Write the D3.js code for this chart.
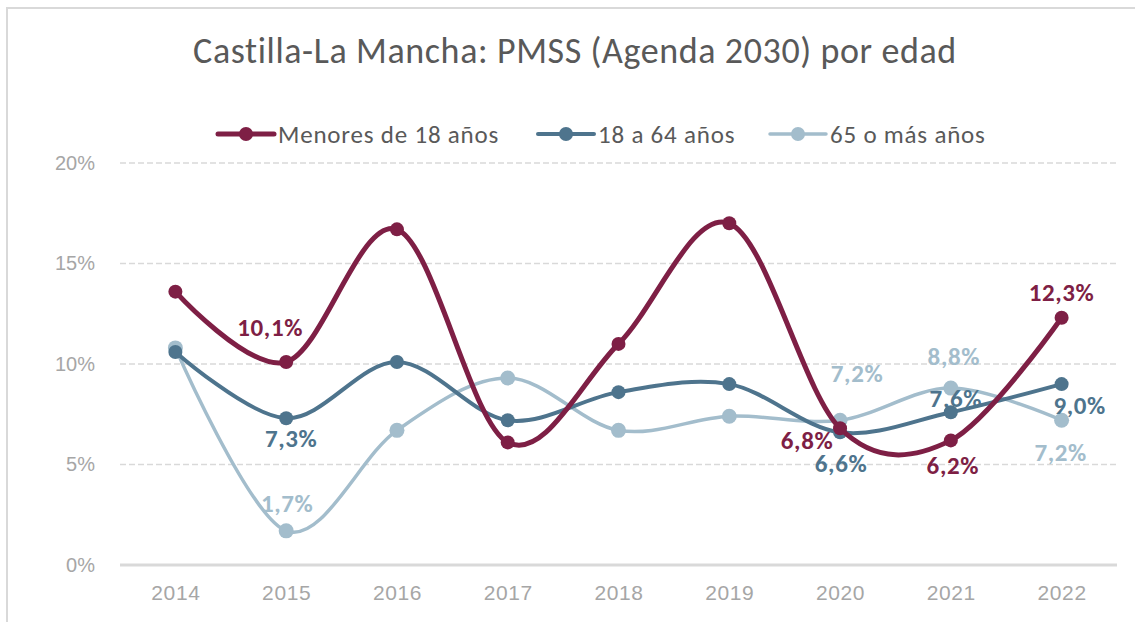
<!DOCTYPE html>
<html>
<head>
<meta charset="utf-8">
<script src="https://cdn.jsdelivr.net/npm/d3@7"></script>
<style>
  body { margin: 0; background: #fff; }
  svg { font-family: Carlito, Lato, "Open Sans", sans-serif; }
</style>
</head>
<body>
<div id="chart"></div>
<script>
// data
const years = ["2014", "2015", "2016", "2017", "2018", "2019", "2020", "2021", "2022"];
const menores = [13.6, 10.1, 16.7, 6.1, 11.0, 17.0, 6.8, 6.2, 12.3];
const adultos = [10.6, 7.3, 10.1, 7.2, 8.6, 9.0, 6.6, 7.6, 9.0];
const mayores = [10.8, 1.7, 6.7, 9.3, 6.7, 7.4, 7.2, 8.8, 7.2];
const yTicks = [0, 5, 10, 15, 20];

const W = 1135, H = 622;
const margin = { top: 163, right: 18, bottom: 57, left: 120 };

const svg = d3.select("#chart").append("svg")
    .attr("width", W)
    .attr("height", H);

// chart frame
svg.append("rect")
    .attr("x", 7).attr("y", 8)
    .attr("width", W + 20).attr("height", H + 20)
    .attr("fill", "none")
    .attr("stroke", "#d9d9d9")
    .attr("stroke-width", 2);

const x = d3.scalePoint()
    .domain(years)
    .range([margin.left, W - margin.right])
    .padding(0.5);

const y = d3.scaleLinear()
    .domain([0, 20])
    .range([H - margin.bottom, margin.top]);

// title
svg.append("text")
    .attr("x", 575).attr("y", 63)
    .attr("text-anchor", "middle")
    .attr("fill", "#595959")
    .style("font-size", "36px")
    .style("letter-spacing", "0.6px")
    .text("Castilla-La Mancha: PMSS (Agenda 2030) por edad");

// gridlines
svg.append("g")
    .selectAll("line")
    .data(yTicks.filter(d => d > 0))
    .join("line")
    .attr("x1", margin.left).attr("x2", W - margin.right)
    .attr("y1", d => y(d)).attr("y2", d => y(d))
    .attr("stroke", "#d9d9d9")
    .attr("stroke-width", 1.3)
    .attr("stroke-dasharray", "6,3");

// y axis labels
const yAxis = svg.append("g")
    .attr("transform", "translate(" + (margin.left - 22) + ",0)")
    .call(d3.axisLeft(y).tickValues(yTicks).tickSize(0).tickFormat(d => d + "%"));
yAxis.select(".domain").remove();
yAxis.selectAll("text")
    .attr("fill", "#a6a6a6")
    .style("font-size", "20px")
    .style("font-family", "inherit");

// x axis
const xAxis = svg.append("g")
    .attr("transform", "translate(0," + y(0) + ")")
    .call(d3.axisBottom(x).tickSize(0).tickPadding(20));
xAxis.select(".domain")
    .attr("d", "M" + margin.left + ",0H" + (W - margin.right))
    .attr("stroke", "#d9d9d9")
    .attr("stroke-width", 3);
xAxis.selectAll("text")
    .attr("fill", "#a6a6a6")
    .style("font-size", "21px")
    .style("letter-spacing", "0.6px")
    .style("font-family", "inherit");

const series = [
  { name: "Menores de 18 años", values: menores, color: "#7e1f45", width: 5, r: 7 },
  { name: "18 a 64 años", values: adultos, color: "#4e748d", width: 4, r: 7 },
  { name: "65 o más años", values: mayores, color: "#a3bdcc", width: 3.5, r: 7.5 }
];

const line = d3.line()
    .x((d, i) => x(years[i]))
    .y(d => y(d))
    .curve(d3.curveCardinal.tension(0));

// draw from back to front: light blue, dark blue, then the red line on top
const order = [2, 1, 0];
order.forEach(k => {
  const s = series[k];
  const g = svg.append("g");
  g.append("path")
      .datum(s.values)
      .attr("fill", "none")
      .attr("stroke", s.color)
      .attr("stroke-width", s.width)
      .attr("stroke-linecap", "round")
      .attr("d", line);
  g.selectAll("circle")
      .data(s.values)
      .join("circle")
      .attr("cx", (d, i) => x(years[i]))
      .attr("cy", d => y(d))
      .attr("r", s.r)
      .attr("fill", s.color);
});

// value labels: [series index, year, dx, dy]
const labels = [
  [0, "2015", -16, -35],
  [1, "2015", 5, 20],
  [2, "2015", 1, -28],
  [0, "2020", -33, 12],
  [1, "2020", 1, 31],
  [2, "2020", 17, -47],
  [2, "2021", 3, -32],
  [1, "2021", 5, -14],
  [0, "2021", 2, 25],
  [0, "2022", 0, -26],
  [1, "2022", 18, 21],
  [2, "2022", -1, 32]
];

const fmt = v => v.toFixed(1).replace(".", ",") + "%";

svg.append("g")
    .selectAll("text")
    .data(labels)
    .join("text")
    .attr("x", d => x(d[1]) + d[2])
    .attr("y", d => y(series[d[0]].values[years.indexOf(d[1])]) + d[3])
    .attr("dy", "0.35em")
    .attr("text-anchor", "middle")
    .attr("fill", d => series[d[0]].color)
    .style("font-size", "25px")
    .style("letter-spacing", "0.6px")
    .style("font-weight", "bold")
    .text(d => fmt(series[d[0]].values[years.indexOf(d[1])]));

// legend
const legendX = [218, 538, 770];
const legend = svg.append("g")
    .selectAll("g")
    .data(series)
    .join("g")
    .attr("transform", (d, i) => "translate(" + legendX[i] + ",134)");
legend.append("line")
    .attr("x1", 0).attr("x2", 56)
    .attr("stroke", d => d.color)
    .attr("stroke-width", d => d.width)
    .attr("stroke-linecap", "round");
legend.append("circle")
    .attr("cx", 28)
    .attr("r", 7)
    .attr("fill", d => d.color);
legend.append("text")
    .attr("x", 60)
    .attr("dy", "0.35em")
    .attr("fill", "#595959")
    .style("font-size", "25px")
    .style("letter-spacing", "0.8px")
    .text(d => d.name);
</script>
</body>
</html>
